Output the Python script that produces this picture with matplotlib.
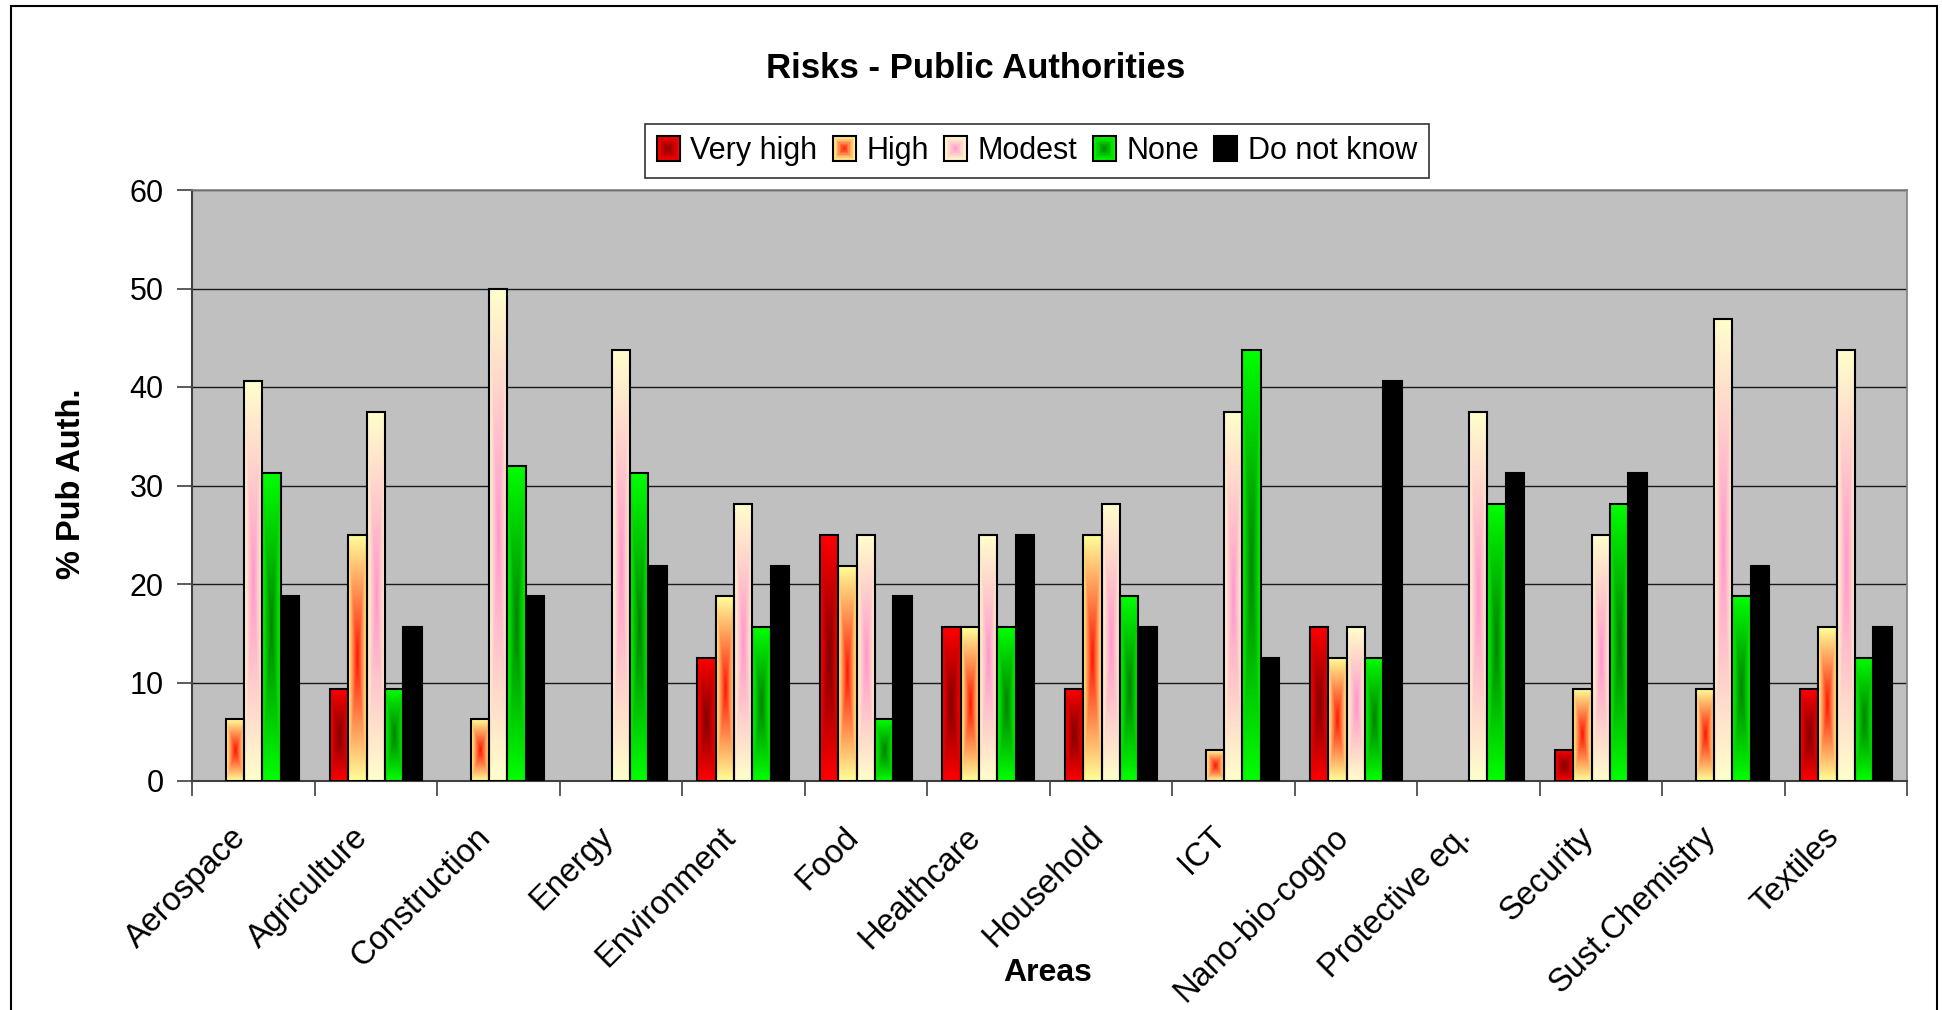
import numpy as np
import matplotlib
matplotlib.use("Agg")
import matplotlib.pyplot as plt
from matplotlib.patches import Rectangle
from matplotlib.legend_handler import HandlerBase
from matplotlib.transforms import ScaledTranslation

plt.rcParams['font.family'] = ['Liberation Sans', 'DejaVu Sans']

areas = ["Aerospace", "Agriculture", "Construction", "Energy", "Environment",
         "Food", "Healthcare", "Household", "ICT", "Nano-bio-cogno",
         "Protective eq.", "Security", "Sust.Chemistry", "Textiles"]

very_high = [0, 9.375, 0, 0, 12.5, 25, 15.625, 9.375, 0, 15.625, 0, 3.125, 0, 9.375]
high = [6.25, 25, 6.25, 0, 18.75, 21.875, 15.625, 25, 3.125, 12.5, 0, 9.375, 9.375, 15.625]
modest = [40.625, 37.5, 50, 43.75, 28.125, 25, 25, 28.125, 37.5, 15.625, 37.5, 25, 46.875, 43.75]
none_ = [31.25, 9.375, 32, 31.25, 15.625, 6.25, 15.625, 18.75, 43.75, 12.5, 28.125, 28.125, 18.75, 12.5]
dont_know = [18.75, 15.625, 18.75, 21.875, 21.875, 18.75, 25, 15.625, 12.5, 40.625, 31.25, 31.25, 21.875, 15.625]

series_names = ["Very high", "High", "Modest", "None", "Do not know"]
series_values = [very_high, high, modest, none_, dont_know]
# (edge colour, centre colour) of the rectangular centre-out fills
fills = [((255, 0, 0), (128, 0, 0)),
         ((255, 255, 153), (255, 20, 0)),
         ((255, 255, 204), (255, 150, 204)),
         ((0, 255, 0), (0, 128, 0)),
         ((0, 0, 0), (0, 0, 0))]


def centre_gradient(edge, centre, nx=41, ny=201):
    u = np.linspace(-1, 1, nx)
    v = np.linspace(-1, 1, ny)
    U, V = np.meshgrid(u, v)
    t = np.maximum(np.abs(U), np.abs(V))[..., None]
    e = np.array(edge, float) / 255
    c = np.array(centre, float) / 255
    return c * (1 - t) + e * t


class GradientHandler(HandlerBase):
    def __init__(self, edge, centre, steps=8):
        super().__init__()
        self.edge = np.array(edge, float) / 255
        self.centre = np.array(centre, float) / 255
        self.steps = steps

    def create_artists(self, legend, orig_handle, xdescent, ydescent,
                       width, height, fontsize, trans):
        arts = []
        x0, y0 = -xdescent, -ydescent
        for i in range(self.steps):
            f = 1 - i / self.steps
            w, h = width * f, height * f
            col = self.centre * (1 - f) + self.edge * f
            arts.append(Rectangle((x0 + (width - w) / 2, y0 + (height - h) / 2), w, h,
                                  facecolor=col, edgecolor='none', transform=trans))
        arts.append(Rectangle((x0, y0), width, height, facecolor='none',
                              edgecolor='black', lw=1.5, transform=trans))
        return arts


fig = plt.figure(figsize=(19.42, 10.10), dpi=100)
ax = fig.add_axes([192 / 1942, 1 - 781 / 1010, (1907 - 192) / 1942, (781 - 190) / 1010])
ax.set_facecolor('#C0C0C0')

n = len(areas)
x = np.arange(n)
bw = 0.151
offsets = (np.arange(5) - 2) * bw

handles = []
for k, (name, vals) in enumerate(zip(series_names, series_values)):
    edge, centre = fills[k]
    lws = [1.5 if v > 0 else 0 for v in vals]
    bars = ax.bar(x + offsets[k], vals, width=bw, facecolor='none',
                  edgecolor='black', linewidth=lws, zorder=4, label=name)
    for rect in bars:
        h = rect.get_height()
        if h <= 0:
            continue
        img = centre_gradient(edge, centre)
        ax.imshow(img, extent=(rect.get_x(), rect.get_x() + rect.get_width(), 0, h),
                  origin='lower', aspect='auto', interpolation='bilinear', zorder=3)
    handles.append(bars[0])

ax.set_xlim(-0.5, n - 0.5)
ax.set_ylim(0, 60)
ax.set_yticks(np.arange(0, 61, 10))
ax.yaxis.grid(True, color='#1a1a1a', linewidth=1.0, zorder=1)
ax.set_axisbelow(True)

ax.set_xticks(x)
ax.set_xticklabels(areas, rotation=45, ha='right', rotation_mode='anchor', fontsize=23.5)
ax.set_xticks(np.arange(-0.5, n, 1), minor=True)
ax.tick_params(axis='x', which='major', length=0, pad=29)
ax.tick_params(axis='x', which='minor', length=11, width=1.2, color='#404040', direction='out')
ax.tick_params(axis='y', length=11, width=1.2, color='#404040', labelsize=22, pad=9.5)

shift = ScaledTranslation(-23 / 100, 0, fig.dpi_scale_trans)
for lbl in ax.get_xticklabels():
    lbl.set_transform(lbl.get_transform() + shift)

for side in ['top', 'right']:
    ax.spines[side].set_color('#808080')
    ax.spines[side].set_linewidth(1.2)
for side in ['left', 'bottom']:
    ax.spines[side].set_color('#404040')
    ax.spines[side].set_linewidth(1.5)

fig.text(71 / 1942, 1 - 484 / 1010, '% Pub Auth.', rotation=90, ha='center', va='center',
         fontsize=23.5, fontweight='bold')
fig.text(1048 / 1942, 1 - 973 / 1010, 'Areas', ha='center', va='center',
         fontsize=23, fontweight='bold')
fig.text(976 / 1942, 1 - 68 / 1010, 'Risks - Public Authorities', ha='center', va='center',
         fontsize=25, fontweight='bold')

handler_map = {h: GradientHandler(*fills[i]) for i, h in enumerate(handles)}
leg = fig.legend(handles, series_names, handler_map=handler_map, ncol=5,
                 loc='center', bbox_to_anchor=(1037 / 1942, 1 - 151 / 1010),
                 fontsize=22, frameon=True, fancybox=False, edgecolor='black',
                 handlelength=0.75, handleheight=0.9, handletextpad=0.35,
                 columnspacing=0.5, borderpad=0.4, borderaxespad=0)
leg.get_frame().set_linewidth(1.2)

fig.patches.append(Rectangle((11 / 1942, -0.1), (1937 - 11) / 1942, 1.1 - 6 / 1010,
                             transform=fig.transFigure, facecolor='none',
                             edgecolor='black', linewidth=1.5))

fig.savefig('out.png', dpi=100)
